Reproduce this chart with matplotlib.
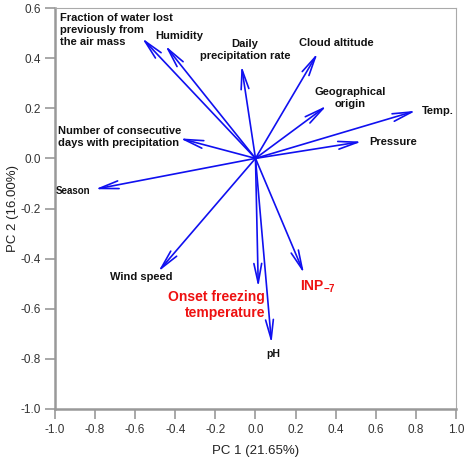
import numpy as np
import matplotlib
matplotlib.use('Agg')
import matplotlib.pyplot as plt

plt.rcParams['font.family'] = ['Liberation Sans', 'DejaVu Sans']
plt.rcParams['axes.unicode_minus'] = False
plt.rcParams['mathtext.fontset'] = 'custom'
plt.rcParams['mathtext.bf'] = 'Liberation Sans:bold'
plt.rcParams['mathtext.rm'] = 'Liberation Sans'

#%% loadings (PC1, PC2)
names = ['Fraction of water lost\npreviously from\nthe air mass', 'Humidity',
         'Daily\nprecipitation rate', 'Cloud altitude', 'Geographical\norigin',
         'Temp.', 'Pressure', 'Number of consecutive\ndays with precipitation',
         'Season', 'Wind speed', 'Onset freezing\ntemperature', 'pH',
         r'$\mathbf{INP}_{\mathbf{-7}}$']
pc1 = [-0.566, -0.45, -0.07, 0.31, 0.355, 0.80, 0.53, -0.377, -0.80, -0.485, 0.014, 0.08, 0.242]
pc2 = [0.48, 0.45, 0.37, 0.42, 0.21, 0.19, 0.067, 0.08, -0.123, -0.452, -0.514, -0.738, -0.459]

# label anchor spots (data coords), alignment
lab_x = [-0.975, -0.382, -0.052, 0.401, 0.471, 0.830, 0.566, -0.985, -0.995, -0.571, 0.047, 0.087, 0.222]
lab_y = [0.512, 0.488, 0.433, 0.46, 0.241, 0.189, 0.065, 0.087, -0.130, -0.473, -0.585, -0.78, -0.513]
lab_ha = ['left', 'center', 'center', 'center', 'center', 'left', 'left', 'left',
          'left', 'center', 'right', 'center', 'left']
lab_size = [8, 8, 8, 8, 8, 8, 8, 8, 7, 8, 10, 7.5, 10]
lab_col = ['#111111'] * 10 + ['#ee1111', '#111111', '#ee1111']

ticks_x = [-1.0, -0.8, -0.6, -0.4, -0.2, 0.0, 0.2, 0.4, 0.6, 0.8, 1.0]
ticks_y = [-1.0, -0.8, -0.6, -0.4, -0.2, 0.0, 0.2, 0.4, 0.6]

#%%
fig = plt.figure(figsize=(4.66, 4.61), dpi=100)
ax = fig.add_axes([0.118, 0.1128, 0.8605, 0.8698])

for i in range(len(names)):
    ax.annotate('', xy=(pc1[i], pc2[i]), xytext=(0, 0),
                arrowprops=dict(arrowstyle='->,head_length=0.7,head_width=0.14',
                                color='#1010f0', lw=1.2, mutation_scale=20,
                                shrinkA=0, shrinkB=0))
    ax.text(lab_x[i], lab_y[i], names[i], ha=lab_ha[i], va='center',
            multialignment=lab_ha[i], fontsize=lab_size[i], weight='bold',
            color=lab_col[i], linespacing=1.25)

ax.set_xlim(-1.0, 1.0)
ax.set_ylim(-1.0, 0.6)
ax.set_xticks(ticks_x)
ax.set_yticks(ticks_y)
ax.set_xticklabels(['%.1f' % v for v in ticks_x])
ax.set_yticklabels(['%.1f' % v for v in ticks_y])
ax.tick_params(direction='out', length=7, width=1.2, color='#999999',
               labelsize=8.5, labelcolor='#333333', pad=4)
ax.tick_params(axis='y', pad=3)
for s in ['left', 'bottom']:
    ax.spines[s].set_color('#999999')
    ax.spines[s].set_linewidth(1.8)
for s in ['right', 'top']:
    ax.spines[s].set_color('#aaaaaa')
    ax.spines[s].set_linewidth(0.8)

ax.set_xlabel('PC 1 (21.65%)', fontsize=9.5, color='#222222', labelpad=6)
ax.set_ylabel('PC 2 (16.00%)', fontsize=9.5, color='#222222', labelpad=1)

fig.savefig('out.png', dpi=100)
